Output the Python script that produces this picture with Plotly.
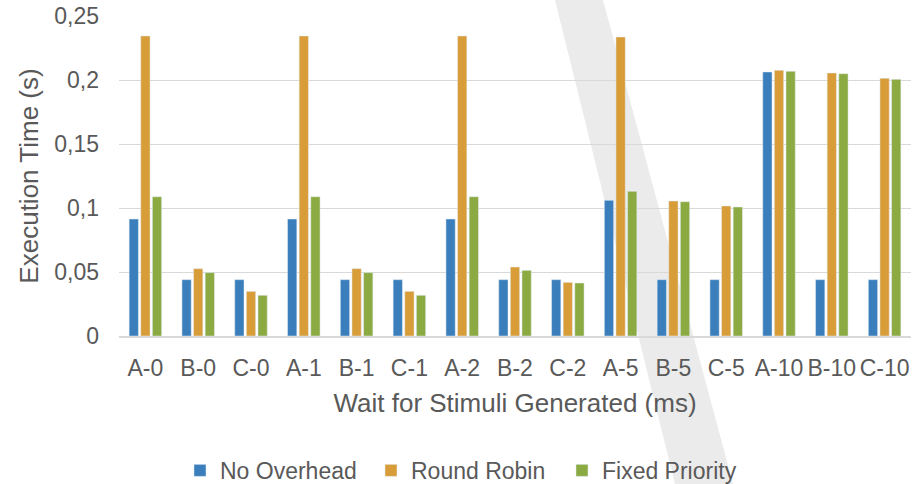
import plotly.graph_objects as go

categories = ["A-0", "B-0", "C-0", "A-1", "B-1", "C-1", "A-2", "B-2", "C-2",
              "A-5", "B-5", "C-5", "A-10", "B-10", "C-10"]
no_overhead = [0.0914, 0.044, 0.044, 0.0914, 0.044, 0.044, 0.0914, 0.044, 0.044,
               0.106, 0.044, 0.044, 0.2063, 0.044, 0.044]
round_robin = [0.2344, 0.0526, 0.0349, 0.2344, 0.0526, 0.0349, 0.2344, 0.0539, 0.0419,
               0.2336, 0.1055, 0.1016, 0.2076, 0.2055, 0.2013]
fixed_priority = [0.1088, 0.0495, 0.0318, 0.1088, 0.0495, 0.0318, 0.1088, 0.0513, 0.0414,
                  0.113, 0.1049, 0.1008, 0.2068, 0.2049, 0.2005]
series_names = ["No Overhead", "Round Robin", "Fixed Priority"]
colors = ["#3A7FBB", "#D89D38", "#8BAA42"]
y_tickvals = [0, 0.05, 0.1, 0.15, 0.2, 0.25]
y_ticktext = ["0", "0,05", "0,1", "0,15", "0,2", "0,25"]

FONT = "Liberation Sans, Arial, sans-serif"
TXT = "#595959"

fig = go.Figure()
for name, vals, col in zip(series_names, [no_overhead, round_robin, fixed_priority], colors):
    fig.add_trace(go.Bar(x=categories, y=vals, name=name, marker_color=col))

fig.update_layout(
    width=915, height=484,
    margin=dict(l=119, r=4, t=16, b=148, autoexpand=False),
    paper_bgcolor="white",
    plot_bgcolor="rgba(0,0,0,0)",
    barmode="group",
    bargap=0.34,
    bargroupgap=0.2,
    font=dict(family=FONT, color=TXT, size=23),
    showlegend=True,
    legend=dict(orientation="h", x=0.077, xanchor="left", y=-0.42, yanchor="middle",
                font=dict(size=23, color=TXT), bgcolor="rgba(0,0,0,0)",
                entrywidth=146, entrywidthmode="pixels"),
    xaxis=dict(
        automargin=False,
        showgrid=False, showline=True, linecolor="#D9D9D9", linewidth=1.5,
        ticks="", ticklabelstandoff=11, tickfont=dict(size=23, color=TXT),
        title=dict(text="Wait for Stimuli Generated (ms)", font=dict(size=26, color=TXT), standoff=13),
    ),
    yaxis=dict(
        automargin=False,
        range=[0, 0.25], tickvals=y_tickvals, ticktext=y_ticktext,
        showgrid=True, gridcolor="#D9D9D9", gridwidth=1, zeroline=False,
        ticks="", ticklabelstandoff=19, tickfont=dict(size=23, color=TXT),
        title=dict(text="Execution Time (s)", font=dict(size=26, color=TXT), standoff=8),
    ),
    shapes=[dict(
        type="path", xref="paper", yref="paper", layer="below",
        path="M 0.5505,1.05 L 0.6111,1.05 L 0.7753,-0.4625 L 0.7020,-0.4625 Z",
        fillcolor="#EBEBEB", line=dict(width=0),
    )],
)

fig.write_html(
    "out.html",
    config={"displayModeBar": False},
    post_script="document.body.style.margin='0';document.body.style.padding='0';document.body.style.overflow='hidden';",
)
